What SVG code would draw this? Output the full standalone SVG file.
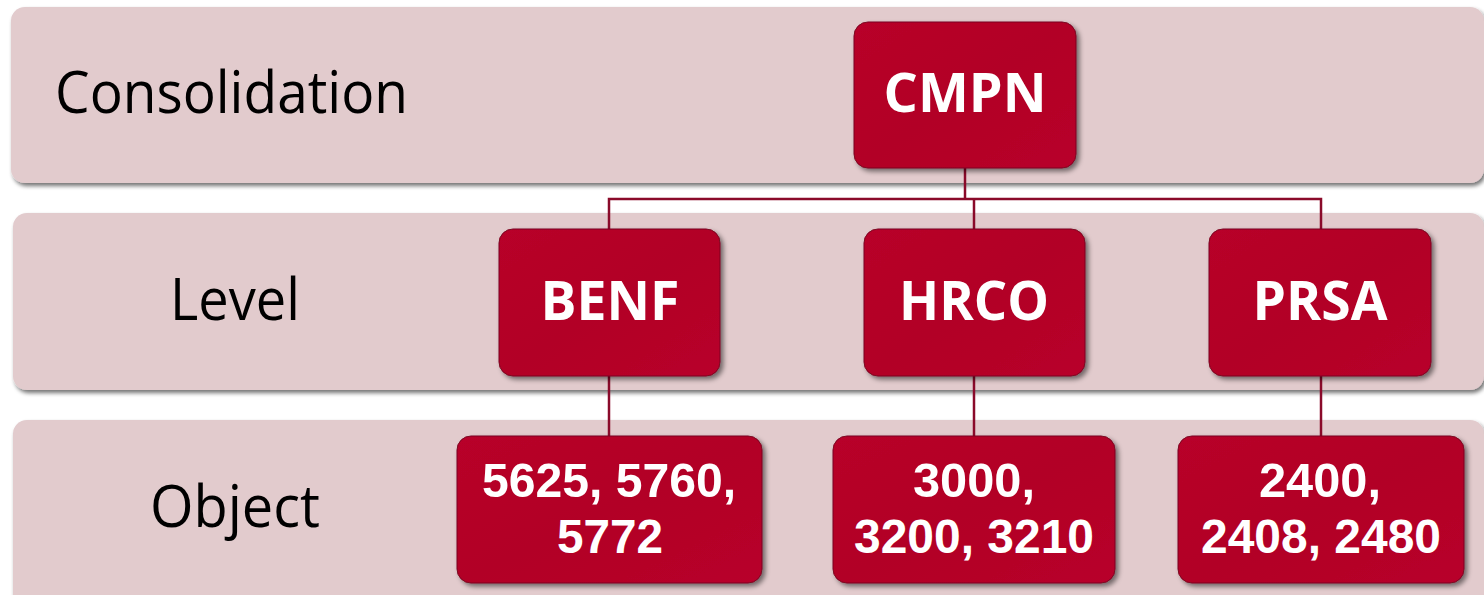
<svg xmlns="http://www.w3.org/2000/svg" width="1484" height="595" viewBox="0 0 1484 595">
<defs>
<filter id="bandShadow" x="-5%" y="-10%" width="110%" height="130%">
<feGaussianBlur in="SourceAlpha" stdDeviation="2"/>
<feOffset dx="2" dy="3" result="b"/>
<feComponentTransfer><feFuncA type="linear" slope="0.55"/></feComponentTransfer>
<feMerge><feMergeNode/><feMergeNode in="SourceGraphic"/></feMerge>
</filter>
<filter id="nodeShadow" x="-10%" y="-10%" width="125%" height="130%">
<feGaussianBlur in="SourceAlpha" stdDeviation="2.5"/>
<feOffset dx="3" dy="3" result="b"/>
<feComponentTransfer><feFuncA type="linear" slope="0.5"/></feComponentTransfer>
<feMerge><feMergeNode/><feMergeNode in="SourceGraphic"/></feMerge>
</filter>
<linearGradient id="nodeFill" x1="0" y1="0" x2="1" y2="1">
<stop offset="0" stop-color="#B80029"/>
<stop offset="0.5" stop-color="#B20026"/>
<stop offset="1" stop-color="#B8002A"/>
</linearGradient>
</defs>
<style>
.band{fill:#E2CBCD;filter:url(#bandShadow)}
.lbl{font-family:"Open Sans","Liberation Sans",sans-serif;font-size:58px;fill:#000}
.node{fill:url(#nodeFill);stroke:#7A0A22;stroke-width:1;filter:url(#nodeShadow)}
.nt{font-weight:bold;fill:#fff;text-anchor:middle}
.big{font-family:"Open Sans","Liberation Sans",sans-serif;font-size:54px}
.small{font-family:"Liberation Sans","Open Sans",sans-serif;font-size:48px}
.conn{stroke:#8A0A2A;stroke-width:2.5;fill:none}
</style>
<rect width="1484" height="595" fill="#ffffff"/>
<g id="bands">
<rect class="band" x="11" y="7" width="1473" height="176" rx="14"/>
<rect class="band" x="13" y="213" width="1471" height="177" rx="14"/>
<rect class="band" x="13" y="420" width="1471" height="200" rx="14"/>
<text class="lbl" x="55" y="113" textLength="353" lengthAdjust="spacingAndGlyphs">Consolidation</text>
<text class="lbl" x="170" y="320" textLength="130" lengthAdjust="spacingAndGlyphs">Level</text>
<text class="lbl" x="150" y="527" textLength="170" lengthAdjust="spacingAndGlyphs">Object</text>
</g>
<g id="connectors">
<polyline class="conn" points="965,168 965,199"/>
<polyline class="conn" points="609,229 609,199 1321,199 1321,229"/>
<polyline class="conn" points="974,199 974,229"/>
<polyline class="conn" points="609,376 609,436"/>
<polyline class="conn" points="974,376 974,436"/>
<polyline class="conn" points="1321,376 1321,436"/>
</g>
<g id="node-cmpn">
<rect class="node" x="854" y="22" width="222" height="146" rx="14"/>
<text class="nt big" x="965" y="112" textLength="163" lengthAdjust="spacingAndGlyphs">CMPN</text>
</g>
<g id="node-benf">
<rect class="node" x="499" y="229" width="221" height="147" rx="14"/>
<text class="nt big" x="610" y="320" textLength="139" lengthAdjust="spacingAndGlyphs">BENF</text>
</g>
<g id="node-hrco">
<rect class="node" x="864" y="229" width="221" height="147" rx="14"/>
<text class="nt big" x="974" y="320" textLength="150" lengthAdjust="spacingAndGlyphs">HRCO</text>
</g>
<g id="node-prsa">
<rect class="node" x="1209" y="229" width="222" height="147" rx="14"/>
<text class="nt big" x="1320" y="320" textLength="135" lengthAdjust="spacingAndGlyphs">PRSA</text>
</g>
<g id="node-obj-benf">
<rect class="node" x="457" y="436" width="305" height="147" rx="14"/>
<text class="nt small" x="609" y="497" textLength="254" lengthAdjust="spacingAndGlyphs">5625, 5760,</text>
<text class="nt small" x="610" y="553" textLength="106" lengthAdjust="spacingAndGlyphs">5772</text>
</g>
<g id="node-obj-hrco">
<rect class="node" x="833" y="436" width="282" height="147" rx="14"/>
<text class="nt small" x="974" y="497" textLength="122" lengthAdjust="spacingAndGlyphs">3000,</text>
<text class="nt small" x="974" y="553" textLength="240" lengthAdjust="spacingAndGlyphs">3200, 3210</text>
</g>
<g id="node-obj-prsa">
<rect class="node" x="1178" y="436" width="286" height="147" rx="14"/>
<text class="nt small" x="1320" y="497" textLength="122" lengthAdjust="spacingAndGlyphs">2400,</text>
<text class="nt small" x="1321" y="553" textLength="240" lengthAdjust="spacingAndGlyphs">2408, 2480</text>
</g>
</svg>
